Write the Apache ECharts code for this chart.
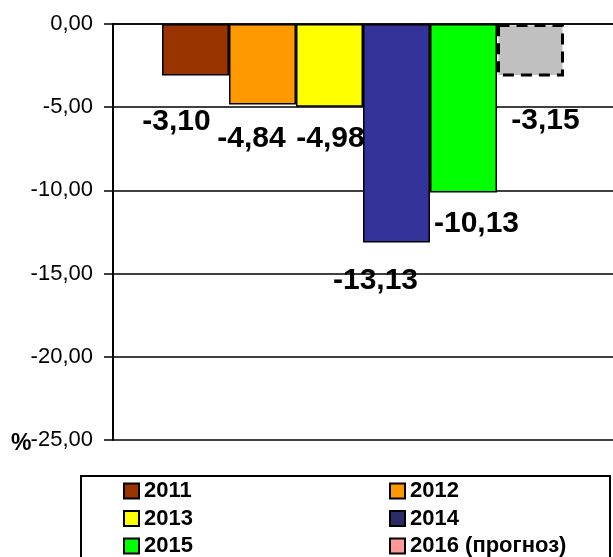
<!DOCTYPE html>
<html>
<head>
<meta charset="utf-8">
<script src="https://cdn.jsdelivr.net/npm/echarts@6/dist/echarts.min.js"></script>
<style>
  html, body { margin: 0; padding: 0; background: #fff; }
  #chart { width: 613px; height: 557px; }
</style>
</head>
<body>
<div id="chart"></div>
<script>
// данные
var years = ["2011", "2012", "2013", "2014", "2015", "2016 (прогноз)"];
var values = [-3.10, -4.84, -4.98, -13.13, -10.13, -3.15];
var barColors = ["#993300", "#FF9900", "#FFFF00", "#333399", "#00FF00", "#C0C0C0"];
var legendColors = ["#993300", "#FF9900", "#FFFF00", "#2B2B66", "#00FF00", "#FF9999"];
// сдвиг подписей (вручную, как в оригинале)
var labelShift = [[-19, 31], [-11, 19], [1, 17], [-21, 23], [13, 16], [15, 29]];
var yTicks = [0, -5, -10, -15, -20, -25];

var FONT = "Liberation Sans, Arial, sans-serif";

function fmt(v) {
  return v.toFixed(2).replace(".", ",");
}

var series = years.map(function (name, i) {
  var last = i === years.length - 1;
  return {
    name: name,
    type: "bar",
    barWidth: 67,
    barGap: "0%",
    data: [values[i]],
    itemStyle: {
      color: barColors[i],
      borderColor: "#000",
      borderWidth: last ? 3 : 1.5,
      borderType: last ? [11, 7] : "solid"
    },
    label: {
      show: true,
      position: "bottom",
      distance: 0,
      offset: labelShift[i],
      formatter: function (p) { return fmt(p.value); },
      fontFamily: FONT,
      fontWeight: "bold",
      fontSize: 30,
      color: "#000"
    }
  };
});

function legendData(idx) {
  return idx.map(function (i) {
    return { name: years[i], itemStyle: { color: legendColors[i] } };
  });
}

var legendCommon = {
  orient: "vertical",
  top: 480,
  itemWidth: 15,
  itemHeight: 15,
  itemGap: 5.5,
  icon: "rect",
  itemStyle: { borderColor: "#000", borderWidth: 2 },
  textStyle: {
    fontFamily: FONT,
    fontWeight: "bold",
    fontSize: 22,
    lineHeight: 22,
    color: "#000"
  },
  padding: 0,
  selectedMode: false
};

var chart = echarts.init(document.getElementById("chart"));
chart.setOption({
  animation: false,
  backgroundColor: "#fff",
  grid: { left: 113, top: 24, width: 504, height: 416 },
  legend: [
    Object.assign({}, legendCommon, { left: 123, data: legendData([0, 2, 4]) }),
    Object.assign({}, legendCommon, { left: 389, data: legendData([1, 3, 5]) })
  ],
  xAxis: {
    type: "category",
    data: [""],
    axisLine: { show: true, onZero: true, lineStyle: { color: "#000", width: 1.5 } },
    axisTick: { show: false },
    axisLabel: { show: false }
  },
  yAxis: {
    type: "value",
    min: -25,
    max: 0,
    interval: 5,
    axisLine: { show: true, lineStyle: { color: "#000", width: 2 } },
    axisTick: { show: true, length: 9, lineStyle: { color: "#000", width: 1.5 } },
    axisLabel: {
      margin: 20,
      fontFamily: FONT,
      fontSize: 22,
      color: "#000",
      formatter: function (v) { return fmt(v); }
    },
    splitLine: { show: true, lineStyle: { color: "#000", width: 1.5 } }
  },
  graphic: [
    {
      type: "rect",
      shape: { x: 81, y: 476, width: 529, height: 100 },
      style: { fill: "none", stroke: "#000", lineWidth: 2 },
      z: 0
    },
    {
      type: "text",
      x: 11,
      y: 432,
      style: {
        text: "%",
        font: "bold 23px " + FONT,
        fill: "#000"
      },
      z: 10
    }
  ],
  series: series
});
</script>
</body>
</html>
